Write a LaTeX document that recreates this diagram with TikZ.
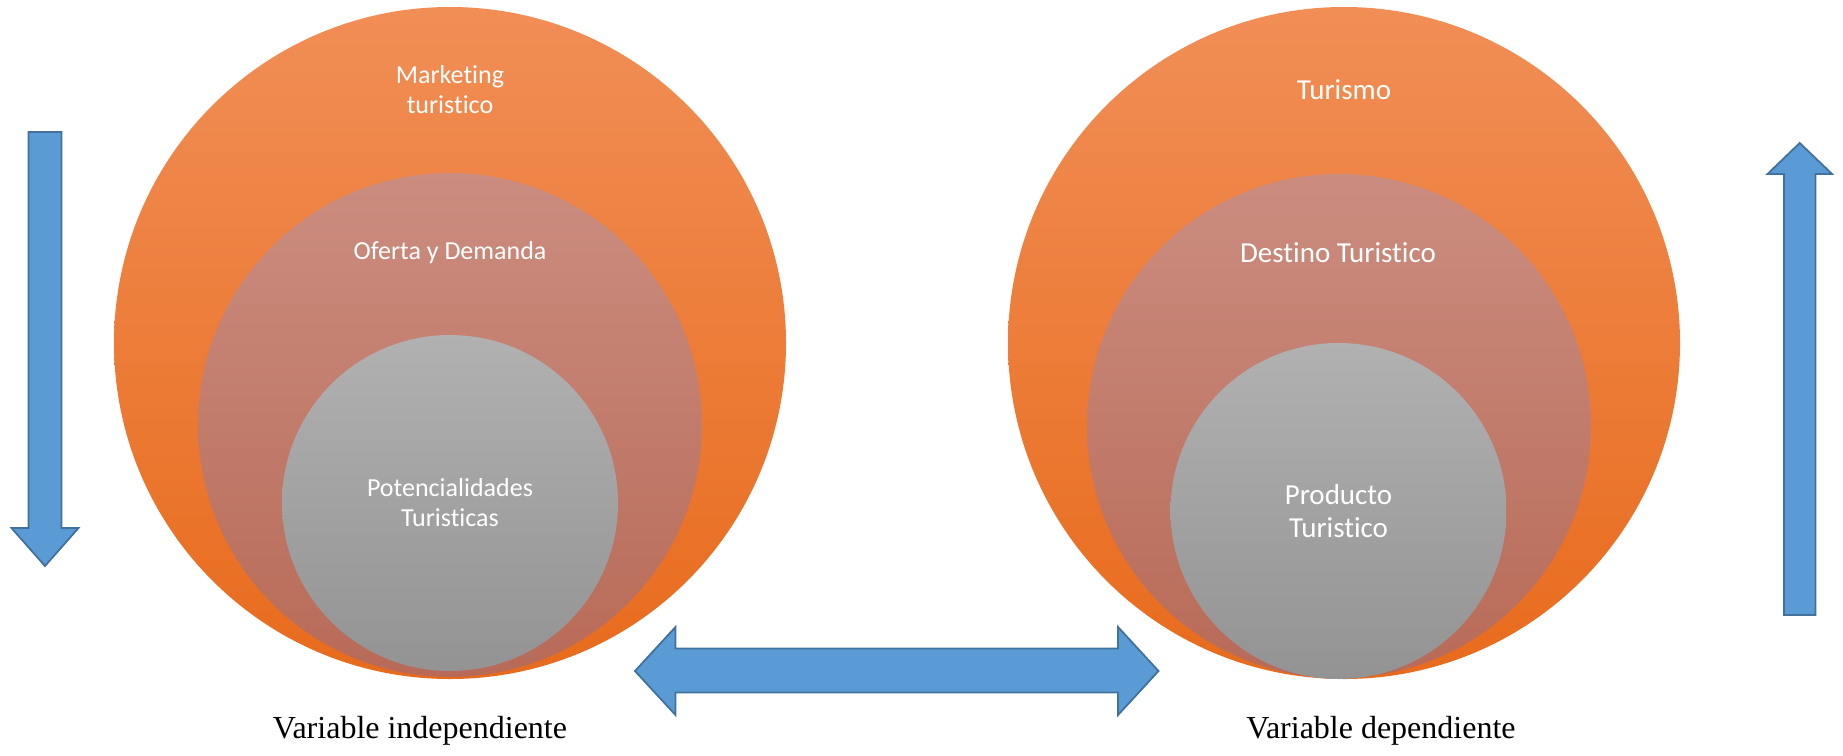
\documentclass[tikz,border=0pt]{standalone}
\usepackage{fontspec}
\setmainfont{Liberation Serif}
\newfontfamily\calfont[Ligatures={NoCommon,NoRequired,NoContextual}]{Carlito}
\definecolor{orTop}{HTML}{F18E56}
\definecolor{orMid}{HTML}{F47E2E}
\definecolor{orBot}{HTML}{E86B1C}
\definecolor{rsTop}{HTML}{CB8D80}
\definecolor{rsBot}{HTML}{B86A57}
\definecolor{gyTop}{HTML}{B1B1B1}
\definecolor{gyBot}{HTML}{939393}
\definecolor{arFill}{HTML}{5B9BD5}
\definecolor{arLine}{HTML}{41719C}
\tikzset{
  outerc/.style={circle, inner sep=0pt, minimum size=672pt, top color=orTop, middle color=orMid, bottom color=orBot, draw=none},
  midc/.style={circle, inner sep=0pt, minimum size=504pt, top color=rsTop, bottom color=rsBot, draw=none},
  innerc/.style={circle, inner sep=0pt, minimum size=336pt, top color=gyTop, bottom color=gyBot, draw=none},
  ltxt/.style={text=white, align=center, font=\calfont\fontsize{26}{30}\selectfont},
  rtxt/.style={text=white, align=center, font=\calfont\fontsize{29}{33}\selectfont},
  vlabel/.style={font=\fontsize{32}{36}\selectfont, text=black},
  blockarrow/.style={fill=arFill, draw=arLine, line width=1.8pt, line join=miter}
}
\begin{document}
\begin{tikzpicture}[x=1pt,y=-1pt]
\useasboundingbox (0,0) rectangle (1843,755);
% left group
\node[outerc] (lo) at (450,343) {};
\node[midc] (lm) at (450,425) {};
\node[innerc] (li) at (450,503) {};
\node[ltxt] (lot) at (450,90) {Marketing\\turistico};
\node[ltxt] (lmt) at (450,253) {Oferta y Demanda};
\node[ltxt] (lit) at (450,503) {Potencialidades\\Turisticas};
% right group
\node[outerc] (ro) at (1344,343) {};
\node[midc] (rm) at (1339,426) {};
\node[innerc] (ri) at (1338.5,511) {};
\node[rtxt] (rot) at (1344,90) {Turismo};
\node[rtxt] (rmt) at (1338,253) {Destino Turistico};
\node[rtxt] (rit) at (1338.5,511) {Producto\\Turistico};
% labels
\node[vlabel] (vi) at (420,731) {Variable independiente};
\node[vlabel] (vd) at (1381,731) {Variable dependiente};
% arrows
\draw[blockarrow] (28.5,132) -- (61.5,132) -- (61.5,528) -- (78.5,528) -- (45,566) -- (11.5,528) -- (28.5,528) -- cycle;
\draw[blockarrow] (1784,615) -- (1815.5,615) -- (1815.5,174) -- (1832,174) -- (1799.7,143) -- (1767.5,174) -- (1784,174) -- cycle;
\draw[blockarrow] (635,671) -- (675.5,627) -- (675.5,648.5) -- (1118,648.5) -- (1118,627) -- (1158.5,671) -- (1118,715) -- (1118,692.5) -- (675.5,692.5) -- (675.5,715) -- cycle;
\end{tikzpicture}
\end{document}
